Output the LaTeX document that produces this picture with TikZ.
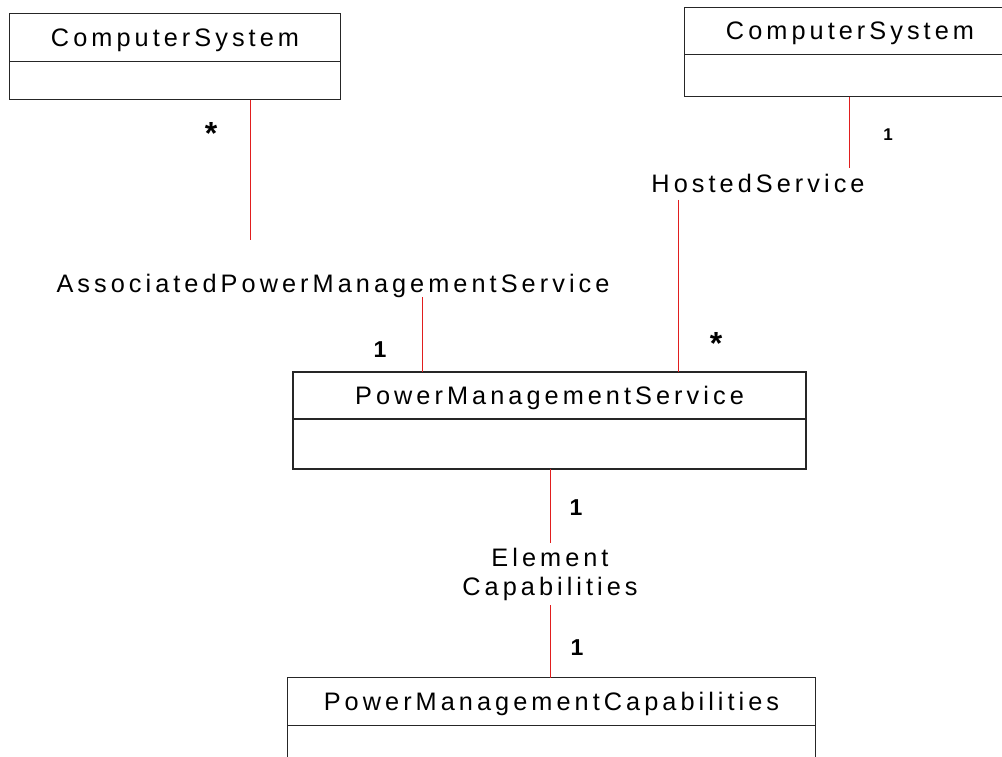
\documentclass[tikz,border=0pt]{standalone}
\usepackage{fontspec}
\setmainfont{Liberation Sans}[LetterSpace=16]
\newfontfamily\multfont{Liberation Sans}
\definecolor{edgered}{RGB}{225,30,30}
\begin{document}
\begin{tikzpicture}[x=1pt, y=-1pt,
    class_style/.style={inner sep=0pt, text height=18pt, text depth=0pt, font=\fontsize{25.3}{29}\selectfont},
    frame_style/.style={draw=black!85, line width=1.2pt},
    label_style/.style={inner sep=2pt, align=center, text depth=0pt, font=\fontsize{25.3}{29}\selectfont},
    mult_style/.style={inner sep=0pt, font=\multfont\bfseries\fontsize{23}{26}\selectfont},
    star_style/.style={inner sep=0pt, font=\multfont\bfseries\fontsize{32}{32}\selectfont},
    edge_style/.style={draw=edgered, line width=0.9pt}]
  \useasboundingbox (0,0) rectangle (1002,757);
  \clip (0,0) rectangle (1002,757);
  % classes
  \draw
    (175,37.5) node[class_style, minimum width=330, minimum height=47] (cs1){ComputerSystem}
    (850,31) node[class_style, minimum width=330, minimum height=46] (cs2){ComputerSystem}
    (549.5,395.5) node[class_style, minimum width=513, minimum height=47] (pms){PowerManagementService}
    (551.5,701.5) node[class_style, minimum width=527, minimum height=47] (pmc){PowerManagementCapabilities};
  \draw
    (cs1.south) node[anchor=north, minimum width=330, minimum height=38] (cs1b){}
    (cs2.south) node[anchor=north, minimum width=330, minimum height=42] (cs2b){}
    (pms.south) node[anchor=north, minimum width=513, minimum height=49] (pmsb){}
    (pmc.south) node[anchor=north, minimum width=527, minimum height=49] (pmcb){};
  \foreach \c in {cs1,cs2,pmc}{
    \draw[frame_style] (\c.north west) rectangle (\c b.south east);
    \draw[frame_style] (\c.south west) -- (\c.south east);
  }
  \draw[frame_style, line width=2.2pt] (pms.north west) rectangle (pmsb.south east);
  \draw[frame_style, line width=2.2pt] (pms.south west) -- (pms.south east);
  % association labels
  \draw
    (333,283) node[label_style] (asc){AssociatedPowerManagementService}
    (758,183) node[label_style] (hosted){HostedService}
    (550,572) node[label_style] (ec){Element\\Capabilities};
  \coordinate (asc_in) at (250,240);
  \coordinate (asc_out) at (422,297);
  \coordinate (hosted_in) at (849,168);
  \coordinate (hosted_out) at (678,200);
  \coordinate (ec_in) at (550,543);
  \coordinate (ec_out) at (550,605);
  % connectors
  \draw[edge_style] (asc_in |- cs1b.south) -- (asc_in);
  \draw[edge_style] (asc_out) -- (asc_out |- pms.north);
  \draw[edge_style] (hosted_in |- cs2b.south) -- (hosted_in);
  \draw[edge_style] (hosted_out) -- (hosted_out |- pms.north);
  \draw[edge_style] (ec_in |- pmsb.south) -- (ec_in);
  \draw[edge_style] (ec_out) -- (ec_out |- pmc.north);
  % multiplicities
  \draw
    (211,133) node[star_style] (m1){*}
    (380,350) node[mult_style] (m2){1}
    (716,343) node[star_style] (m3){*}
    (888,135) node[mult_style, font=\multfont\bfseries\fontsize{17}{20}\selectfont] (m4){1}
    (576,508) node[mult_style] (m5){1}
    (577,648) node[mult_style] (m6){1};
\end{tikzpicture}
\end{document}
